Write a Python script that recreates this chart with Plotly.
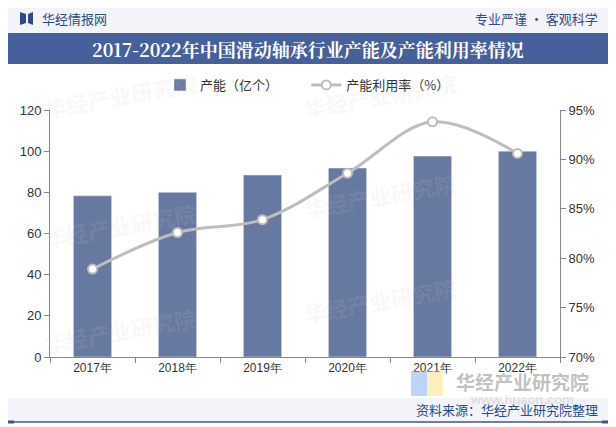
import plotly.graph_objects as go

years = ["2017年", "2018年", "2019年", "2020年", "2021年", "2022年"]
capacity = [78.3, 80.0, 88.4, 91.8, 97.6, 100.0]
utilization = [78.9, 82.6, 83.9, 88.6, 93.8, 90.6]
left_ticks = [0, 20, 40, 60, 80, 100, 120]
right_ticks = [70, 75, 80, 85, 90, 95]
right_labels = ["70%", "75%", "80%", "85%", "90%", "95%"]

OFF = 8  # page body margin offset
W, H = 616 - OFF, 427 - OFF
ML, MR, MT, MB = 50 - OFF, 56, 110 - OFF, 70
PW, PH = W - ML - MR, H - MT - MB
BAR = "#6779a0"
LINE = "#bdbdbd"
NAVY = "#3c5590"
FONT = "Liberation Sans, Arial, sans-serif"
CJK = "Noto Sans CJK SC"

fig = go.Figure()
fig.add_trace(go.Bar(
    x=years, y=capacity, name="产能（亿个）        ", marker_color=BAR,
    width=0.45, yaxis="y"))
fig.add_trace(go.Scatter(
    x=years, y=utilization, name="产能利用率（%）", yaxis="y2",
    mode="lines+markers", line=dict(color=LINE, width=3, shape="spline", smoothing=1.0),
    marker=dict(color="white", size=9, line=dict(color=LINE, width=2))))


def px(x):
    return (x - OFF - ML) / PW


def py(y):
    return (H - MB - (y - OFF)) / PH


shapes = []
shapes.append(dict(type="rect", xref="paper", yref="paper", x0=px(6), x1=px(610), y0=py(33), y1=py(5),
                   fillcolor="#f2f4f9", line_width=0, layer="below"))
shapes.append(dict(type="line", xref="paper", yref="paper", x0=px(6), x1=px(610), y0=py(5.5), y1=py(5.5),
                   line=dict(color=NAVY, width=1.5)))
shapes.append(dict(type="rect", xref="paper", yref="paper", x0=px(6), x1=px(13), y0=py(7), y1=py(4),
                   fillcolor=NAVY, line_width=0))
shapes.append(dict(type="rect", xref="paper", yref="paper", x0=px(603), x1=px(610), y0=py(7), y1=py(4),
                   fillcolor=NAVY, line_width=0))
shapes.append(dict(type="rect", xref="paper", yref="paper", x0=px(6), x1=px(610), y0=py(64), y1=py(33),
                   fillcolor="#46609a", line_width=0))
shapes.append(dict(type="path", xref="paper", yref="paper",
                   path=f"M {px(20)},{py(12)} L {px(26)},{py(14)} L {px(26)},{py(23)} L {px(20)},{py(25)} Z",
                   fillcolor="#2f4a8a", line_width=0))
shapes.append(dict(type="path", xref="paper", yref="paper",
                   path=f"M {px(33)},{py(12)} L {px(28)},{py(14)} L {px(28)},{py(23)} L {px(33)},{py(25)} Z",
                   fillcolor="#2f4a8a", line_width=0))
shapes.append(dict(type="rect", xref="paper", yref="paper", x0=px(6), x1=px(610), y0=py(422), y1=py(398),
                   fillcolor="#f2f4f9", line_width=0, layer="below"))
shapes.append(dict(type="line", xref="paper", yref="paper", x0=px(6), x1=px(610), y0=py(422), y1=py(422),
                   line=dict(color=NAVY, width=1.5)))
shapes.append(dict(type="rect", xref="paper", yref="paper", x0=px(6), x1=px(14), y0=py(423.5), y1=py(420.5),
                   fillcolor=NAVY, line_width=0))
shapes.append(dict(type="rect", xref="paper", yref="paper", x0=px(602), x1=px(610), y0=py(423.5), y1=py(420.5),
                   fillcolor=NAVY, line_width=0))
shapes.append(dict(type="rect", xref="paper", yref="paper", x0=px(411), x1=px(427), y0=py(396), y1=py(371),
                   fillcolor="rgba(120,170,240,0.5)", line_width=0))
shapes.append(dict(type="rect", xref="paper", yref="paper", x0=px(427), x1=px(443), y0=py(396), y1=py(371),
                   fillcolor="rgba(250,225,130,0.5)", line_width=0))

annotations = [
    dict(text="华经情报网", x=px(40), y=py(19), xref="paper", yref="paper", xanchor="left", yanchor="middle",
         showarrow=False, font=dict(family=CJK, size=13, color="#2f4a8a")),
    dict(text="专业严谨 • 客观科学", x=px(600), y=py(19), xref="paper", yref="paper", xanchor="right",
         yanchor="middle", showarrow=False, font=dict(family=CJK, size=13, color="#2f4a8a")),
    dict(text="<b>2017-2022年中国滑动轴承行业产能及产能利用率情况</b>", x=px(308), y=py(49), xref="paper",
         yref="paper", xanchor="center", yanchor="middle", showarrow=False,
         font=dict(family="Noto Serif CJK SC, " + CJK, size=18, color="white")),
    dict(text="<b>华经产业研究院</b>", x=px(522), y=py(381), xref="paper", yref="paper", xanchor="center",
         yanchor="middle", showarrow=False, font=dict(family=CJK, size=19, color="rgba(140,140,140,0.55)")),
    dict(text="<b>www.huaon.com</b>", x=px(522), y=py(399), xref="paper", yref="paper", xanchor="center",
         yanchor="middle", showarrow=False, font=dict(family=FONT, size=13, color="rgba(170,170,170,0.3)")),
    dict(text="资料来源：华经产业研究院整理", x=px(600), y=py(409), xref="paper", yref="paper", xanchor="right",
         yanchor="middle", showarrow=False, font=dict(family=CJK, size=13, color="#2f4a8a")),
]
for (wx, wy) in [(120, 95), (380, 95), (120, 225), (380, 195), (120, 330), (380, 300)]:
    annotations.append(dict(text="<b>华经产业研究院</b>", x=px(wx), y=py(wy), xref="paper", yref="paper",
                            xanchor="center", yanchor="middle", showarrow=False, textangle=-10,
                            font=dict(family=CJK, size=22, color="rgba(200,200,200,0.12)")))

fig.update_layout(
    width=W, height=H,
    margin=dict(l=ML, r=MR, t=MT, b=MB, autoexpand=False),
    paper_bgcolor="white", plot_bgcolor="white",
    font=dict(family=FONT, size=12, color="#333333"),
    showlegend=True,
    legend=dict(orientation="h", x=px(160), y=py(85), xanchor="left", yanchor="middle",
                font=dict(family=CJK, size=13, color="#333333"), bgcolor="rgba(0,0,0,0)",
                itemwidth=30, tracegroupgap=0),
    bargap=0.55,
    xaxis=dict(showline=True, linecolor="#888888", linewidth=1, ticks="outside", ticklen=5,
               tickcolor="#888888", tickson="boundaries", showgrid=False,
               tickfont=dict(family=FONT, size=12, color="#333333")),
    yaxis=dict(range=[0, 120], tickvals=left_ticks, showline=True, linecolor="#888888", linewidth=1,
               ticks="outside", ticklen=5, tickcolor="#888888", showgrid=False, zeroline=False,
               tickfont=dict(family=FONT, size=13, color="#333333")),
    yaxis2=dict(range=[70, 95], tickvals=right_ticks, ticktext=right_labels, overlaying="y", side="right",
                showline=True, linecolor="#888888", linewidth=1, ticks="outside", ticklen=5,
                tickcolor="#888888", showgrid=False, zeroline=False,
                tickfont=dict(family=FONT, size=13, color="#333333")),
    shapes=shapes,
    annotations=annotations,
)

fig.write_html("out.html")
